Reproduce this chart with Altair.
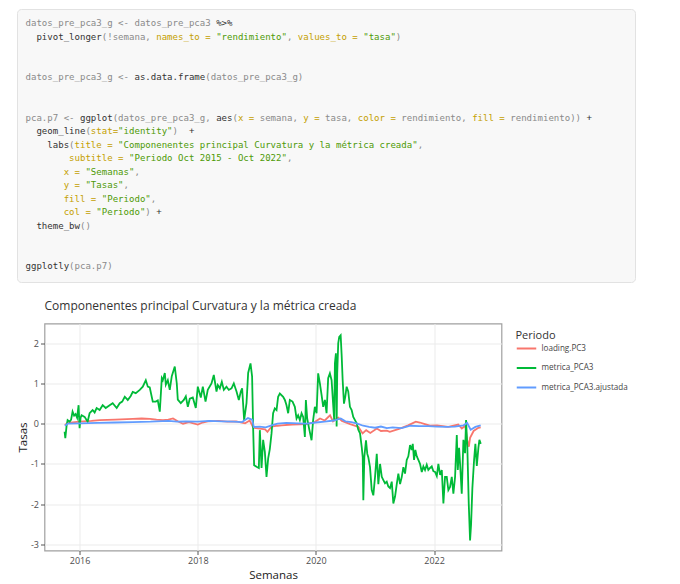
import altair as alt
import pandas as pd

# ---------------- data ----------------
SERIES = ["loading.PC3", "metrica_PCA3", "metrica_PCA3.ajustada"]
COLORS = ["#F8766D", "#00BA38", "#619CFF"]

# decimal-year positions and values of metrica_PCA3 (green)
green_t = [2015.746, 2015.758, 2015.780, 2015.797, 2015.831, 2015.856, 2015.881, 2015.907, 2015.932, 2015.958,
           2015.983, 2016.000, 2016.017, 2016.034, 2016.085, 2016.136, 2016.169, 2016.220, 2016.254, 2016.288,
           2016.339, 2016.390, 2016.441, 2016.508, 2016.559, 2016.627, 2016.678, 2016.720, 2016.763, 2016.814,
           2016.864, 2016.898, 2016.949, 2017.017, 2017.068, 2017.119, 2017.153, 2017.186, 2017.237, 2017.288,
           2017.322, 2017.356, 2017.390, 2017.407, 2017.441, 2017.458, 2017.492, 2017.525, 2017.559, 2017.610,
           2017.644, 2017.661, 2017.712, 2017.763, 2017.797, 2017.831, 2017.864, 2017.915, 2017.966, 2018.000,
           2018.051, 2018.085, 2018.131, 2018.169, 2018.232, 2018.271, 2018.317, 2018.339, 2018.373, 2018.407,
           2018.441, 2018.486, 2018.525, 2018.571, 2018.610, 2018.656, 2018.695, 2018.729, 2018.751, 2018.785,
           2018.825, 2018.853, 2018.893, 2018.920, 2018.937, 2018.954, 2018.995, 2019.034, 2019.051, 2019.080,
           2019.107, 2019.136, 2019.164, 2019.192, 2019.220, 2019.249, 2019.276, 2019.305, 2019.334, 2019.361,
           2019.390, 2019.446, 2019.475, 2019.503, 2019.531, 2019.559, 2019.605, 2019.644, 2019.673, 2019.700,
           2019.729, 2019.758, 2019.785, 2019.814, 2019.831, 2019.853, 2019.886, 2019.927, 2019.954, 2019.983,
           2020.012, 2020.039, 2020.068, 2020.097, 2020.124, 2020.153, 2020.181, 2020.208, 2020.237, 2020.266,
           2020.293, 2020.310, 2020.322, 2020.339, 2020.351, 2020.361, 2020.378, 2020.395, 2020.419, 2020.436,
           2020.453, 2020.475, 2020.497, 2020.520, 2020.547, 2020.576, 2020.605, 2020.632, 2020.661, 2020.690,
           2020.717, 2020.746, 2020.775, 2020.792, 2020.802, 2020.819, 2020.847, 2020.869, 2020.886, 2020.915,
           2020.944, 2020.971, 2021.000, 2021.029, 2021.056, 2021.085, 2021.114, 2021.141, 2021.169, 2021.198,
           2021.225, 2021.254, 2021.283, 2021.310, 2021.339, 2021.368, 2021.395, 2021.424, 2021.453, 2021.480,
           2021.508, 2021.537, 2021.564, 2021.593, 2021.622, 2021.639, 2021.661, 2021.683, 2021.707, 2021.734,
           2021.763, 2021.792, 2021.819, 2021.847, 2021.876, 2021.903, 2021.932, 2021.961, 2021.988, 2022.017,
           2022.046, 2022.073, 2022.102, 2022.131, 2022.158, 2022.186, 2022.215, 2022.242, 2022.271, 2022.300,
           2022.327, 2022.356, 2022.385, 2022.402, 2022.424, 2022.441, 2022.469, 2022.497, 2022.525, 2022.542,
           2022.564, 2022.588, 2022.610, 2022.627, 2022.649, 2022.678, 2022.700, 2022.724, 2022.751, 2022.768,
           2022.791]
green_v = [-0.20, -0.36, -0.05, 0.09, 0.05, 0.10, 0.30, 0.20, 0.24, 0.15,
           0.46, -0.11, 0.15, 0.21, 0.17, 0.05, 0.26, 0.34, 0.28, 0.39,
           0.34, 0.46, 0.39, 0.46, 0.51, 0.39, 0.51, 0.55, 0.67, 0.59,
           0.69, 0.79, 0.76, 0.84, 0.92, 1.08, 0.92, 0.90, 0.55, 0.55,
           0.58, 0.30, 1.13, 1.08, 1.26, 0.97, 1.08, 0.84, 1.18, 1.42,
           1.00, 0.60, 0.51, 0.59, 0.68, 0.42, 0.62, 0.65, 0.39, 0.92,
           0.65, 0.92, 0.55, 0.84, 1.00, 1.21, 0.80, 0.96, 0.88, 1.04,
           0.84, 0.92, 0.84, 0.88, 1.00, 0.80, 0.59, 0.80, 0.88, 0.09,
           0.51, 1.26, 1.50, 1.17, -0.07, -1.03, -1.07, -1.10, -0.16, -1.10,
           -0.40, -0.70, -1.32, -0.86, -0.63, -0.24, 0.26, 0.38, 0.34, 0.67,
           0.75, 0.67, 0.59, 0.46, 0.26, 0.59, 0.55, 0.42, 0.13, 0.21,
           0.09, 0.26, 0.17, -0.33, 0.59, 0.13, -0.12, -0.41, 0.09, 0.42,
           0.26, 1.25, 1.00, 0.71, 0.42, 0.59, 0.26, 1.13, 1.25, 1.08,
           0.46, 0.09, 1.50, 1.75, -0.07, 1.25, 2.00, 2.16, 2.20, 1.70,
           1.08, 0.50, 0.67, 0.92, 0.80, 0.42, 0.34, 0.17, 0.09, 0.01,
           -0.15, -0.24, -0.58, -0.83, -1.90, -0.83, -0.41, -0.75, -0.83, -1.08,
           -1.65, -1.78, -1.32, -0.75, -1.50, -1.00, -1.32, -1.40, -1.48, -1.44,
           -1.56, -1.60, -1.44, -1.98, -1.81, -1.50, -1.24, -1.50, -1.32, -1.08,
           -1.24, -0.90, -0.81, -0.53, -0.65, -0.50, -0.90, -0.65, -0.81, -0.90,
           -1.00, -1.20, -1.06, -1.15, -1.02, -1.15, -1.10, -1.06, -1.18, -1.20,
           -1.30, -1.00, -1.27, -1.15, -1.98, -1.32, -1.32, -1.65, -1.57, -1.32,
           -1.74, -1.32, -0.28, -1.15, -0.60, -1.00, -1.74, -0.40, -0.73, 0.09,
           -0.60, -2.00, -2.90, -2.50, -1.60, -0.90, -0.50, -1.05, -0.60, -0.40,
           -0.50]

# loading.PC3 (red)
red_t = [2015.75, 2015.80, 2016.00, 2016.20, 2016.34, 2016.60, 2016.90, 2017.05, 2017.19, 2017.30,
         2017.41, 2017.50, 2017.58, 2017.66, 2017.75, 2017.85, 2018.00, 2018.08, 2018.17, 2018.35,
         2018.50, 2018.65, 2018.80, 2018.88, 2018.94, 2019.05, 2019.14, 2019.18, 2019.25, 2019.35,
         2019.42, 2019.60, 2019.84, 2019.98, 2020.07, 2020.15, 2020.24, 2020.29, 2020.38, 2020.44,
         2020.58, 2020.72, 2020.79, 2020.85, 2020.92, 2021.03, 2021.10, 2021.20, 2021.25, 2021.42,
         2021.56, 2021.69, 2021.76, 2021.93, 2022.05, 2022.24, 2022.41, 2022.47, 2022.53, 2022.56,
         2022.59, 2022.61, 2022.67, 2022.75, 2022.79]
red_v = [-0.03, 0.02, 0.05, 0.07, 0.09, 0.10, 0.12, 0.13, 0.12, 0.10,
         0.09, 0.10, 0.13, 0.06, 0.00, 0.04, -0.02, 0.03, 0.06, 0.07,
         0.05, 0.06, 0.01, 0.08, -0.10, -0.12, -0.14, -0.20, -0.07, -0.05,
         -0.04, -0.02, -0.01, 0.04, 0.13, 0.08, 0.21, 0.06, 0.15, 0.07,
         -0.01, -0.08, -0.24, -0.16, -0.23, -0.12, -0.18, -0.17, -0.20, -0.12,
         -0.04, 0.05, 0.03, -0.05, -0.04, -0.08, -0.02, -0.12, -0.05, -0.40,
         -0.57, -0.35, -0.18, -0.10, -0.09]

# metrica_PCA3.ajustada (blue)
blue_t = [2015.75, 2015.80, 2016.00, 2016.30, 2016.60, 2016.90, 2017.20, 2017.50, 2017.65, 2017.80,
          2018.00, 2018.20, 2018.40, 2018.60, 2018.75, 2018.85, 2018.92, 2018.95, 2019.05, 2019.15,
          2019.25, 2019.35, 2019.50, 2019.70, 2019.85, 2020.00, 2020.15, 2020.30, 2020.42, 2020.50,
          2020.60, 2020.70, 2020.80, 2020.90, 2021.00, 2021.10, 2021.20, 2021.30, 2021.45, 2021.60,
          2021.75, 2021.90, 2022.05, 2022.20, 2022.35, 2022.50, 2022.56, 2022.62, 2022.70, 2022.79]
blue_v = [-0.05, 0.00, 0.01, 0.02, 0.03, 0.04, 0.05, 0.07, 0.05, 0.06,
          0.05, 0.07, 0.06, 0.05, 0.04, 0.14, 0.10, -0.08, -0.07, -0.09,
          -0.04, 0.00, 0.02, 0.01, 0.00, 0.03, 0.05, 0.08, 0.13, 0.06,
          0.04, 0.00, -0.05, -0.08, -0.10, -0.07, -0.11, -0.09, -0.11, -0.05,
          -0.06, -0.06, -0.07, -0.08, -0.07, -0.04, 0.02, -0.15, -0.08, -0.04]

X_TICKS = [2016, 2018, 2020, 2022]
X_DOMAIN = [(2015, 5, 29), (2023, 2, 22)]
Y_TICKS = [-3, -2, -1, 0, 1, 2]
Y_DOMAIN = [-3.15, 2.49]

TITLE = "Componenentes principal Curvatura y la métrica creada"
X_TITLE = "Semanas"
Y_TITLE = "Tasas"
LEGEND_TITLE = "Periodo"

# R code shown above the chart: (token, style) per line
CODE = [
    [("datos_pre_pca3_g <- datos_pre_pca3 ", "g"), ("%>%", "f")],
    [("  ", "g"), ("pivot_longer", "f"), ("(!semana, ", "g"), ("names_to =", "a"), (" ", "g"),
     ('"rendimiento"', "s"), (", ", "g"), ("values_to =", "a"), (" ", "g"), ('"tasa"', "s"), (")", "g")],
    [],
    [],
    [("datos_pre_pca3_g <- ", "g"), ("as.data.frame", "f"), ("(datos_pre_pca3_g)", "g")],
    [],
    [],
    [("pca.p7 <- ", "g"), ("ggplot", "f"), ("(datos_pre_pca3_g, ", "g"), ("aes", "f"), ("(", "g"),
     ("x =", "a"), (" semana, ", "g"), ("y =", "a"), (" tasa, ", "g"), ("color =", "a"),
     (" rendimiento, ", "g"), ("fill =", "a"), (" rendimiento)) ", "g"), ("+", "f")],
    [("  ", "g"), ("geom_line", "f"), ("(", "g"), ("stat=", "a"), ('"identity"', "s"), (")  ", "g"), ("+", "f")],
    [("    ", "g"), ("labs", "f"), ("(", "g"), ("title =", "a"), (" ", "g"),
     ('"Componenentes principal Curvatura y la métrica creada"', "s"), (",", "g")],
    [("        ", "g"), ("subtitle =", "a"), (" ", "g"), ('"Periodo Oct 2015 - Oct 2022"', "s"), (",", "g")],
    [("       ", "g"), ("x =", "a"), (" ", "g"), ('"Semanas"', "s"), (",", "g")],
    [("       ", "g"), ("y =", "a"), (" ", "g"), ('"Tasas"', "s"), (",", "g")],
    [("       ", "g"), ("fill =", "a"), (" ", "g"), ('"Periodo"', "s"), (",", "g")],
    [("       ", "g"), ("col =", "a"), (" ", "g"), ('"Periodo"', "s"), (") ", "g"), ("+", "f")],
    [("  ", "g"), ("theme_bw", "f"), ("()", "g")],
    [],
    [],
    [("ggplotly", "f"), ("(pca.p7)", "g")],
]
CODE_STYLES = {"g": "#8a8a8a", "f": "#333333", "a": "#c4a000", "s": "#4e9a06"}

# ---------------- build table ----------------
def to_date(y):
    yi = int(y // 1)
    s = pd.Timestamp(year=yi, month=1, day=1)
    e = pd.Timestamp(year=yi + 1, month=1, day=1)
    return s + (e - s) * (y - yi)

rows = []
for name, ts, vs in [(SERIES[0], red_t, red_v), (SERIES[1], green_t, green_v), (SERIES[2], blue_t, blue_v)]:
    assert len(ts) == len(vs), (name, len(ts), len(vs))
    for t, v in zip(ts, vs):
        rows.append({"semana": to_date(t).strftime("%Y-%m-%dT%H:%M:%S"), "tasa": v, "rendimiento": name})
df = pd.DataFrame(rows)

NB = "\u00a0"      # non-breaking space keeps monospace columns
ZW = "\u200b"      # zero-width lead char so leading blanks are not trimmed

def code_lines(style):
    out = []
    for line in CODE:
        s = ""
        for tok, st in line:
            s += "".join((c if (st == style and c != " ") else NB) for c in tok)
        out.append(ZW + s + ZW)
    return out

# ---------------- chart ----------------
W, H = 457, 227

x_enc = alt.X(
    "semana:T",
    scale=alt.Scale(domain=[alt.DateTime(year=a, month=b, date=c) for a, b, c in X_DOMAIN]),
    axis=alt.Axis(title=X_TITLE, values=[alt.DateTime(year=yr, month=1, date=1) for yr in X_TICKS],
                  format="%Y", labelPadding=2, titlePadding=4),
)
y_enc = alt.Y(
    "tasa:Q",
    scale=alt.Scale(domain=Y_DOMAIN, nice=False, zero=False),
    axis=alt.Axis(title=Y_TITLE, values=Y_TICKS, labelPadding=2, titlePadding=2,
                  labelExpr="datum.value < 0 ? '-' + format(-datum.value, 'd') : format(datum.value, 'd')"),
)
color_enc = alt.Color(
    "rendimiento:N",
    scale=alt.Scale(domain=SERIES, range=COLORS),
    legend=alt.Legend(title=LEGEND_TITLE, orient="none", legendX=471, legendY=6,
                      symbolType="stroke", symbolSize=380, symbolStrokeWidth=2,
                      labelFont="Open Sans", labelFontSize=8.1, labelColor="#444444",
                      titleFont="Open Sans", titleFontSize=11, titleFontWeight="normal",
                      titleColor="#333333", titlePadding=-3, rowPadding=3.5, labelOffset=4, padding=0),
)

lines = [
    alt.Chart(df).transform_filter(alt.datum.rendimiento == name)
    .mark_line(strokeWidth=1.8).encode(x=x_enc, y=y_enc, color=color_enc)
    for name in SERIES
]

one = alt.Data(values=[{"k": 1}])
box = alt.Chart(one).mark_rect(fill="#f8f8f8", stroke="#e2e2e2", strokeWidth=1, cornerRadius=4).encode(
    x=alt.value(-27), x2=alt.value(591), y=alt.value(-314), y2=alt.value(-41))

code_layers = [
    alt.Chart(one).mark_text(text=code_lines(st), font="DejaVu Sans Mono", fontSize=9.05, lineHeight=13.5,
                             align="left", baseline="top", color=col)
    .encode(x=alt.value(-19), y=alt.value(-304.3))
    for st, col in CODE_STYLES.items()
]

title_text = alt.Chart(one).mark_text(text=TITLE, font="Open Sans", fontSize=12, color="#333333",
                                      align="left", baseline="middle").encode(
    x=alt.value(0), y=alt.value(-18))

chart = alt.layer(box, *code_layers, title_text, *lines).properties(
    width=W, height=H,
    padding={"left": 16.5, "top": 8.5, "right": 5, "bottom": 5},
    background="white",
).configure_view(
    stroke="#a0a0a0", strokeWidth=1.2
).configure_axis(
    domain=False, grid=True, gridColor="#ebebeb", gridWidth=1,
    tickColor="#555555", tickSize=4, tickWidth=1,
    labelFont="Open Sans", labelFontSize=9, labelColor="#4d4d4d",
    titleFont="Open Sans", titleFontSize=11.5, titleFontWeight="normal", titleColor="#222222",
)

chart.save("out.html", embed_options={"renderer": "svg", "actions": False})
